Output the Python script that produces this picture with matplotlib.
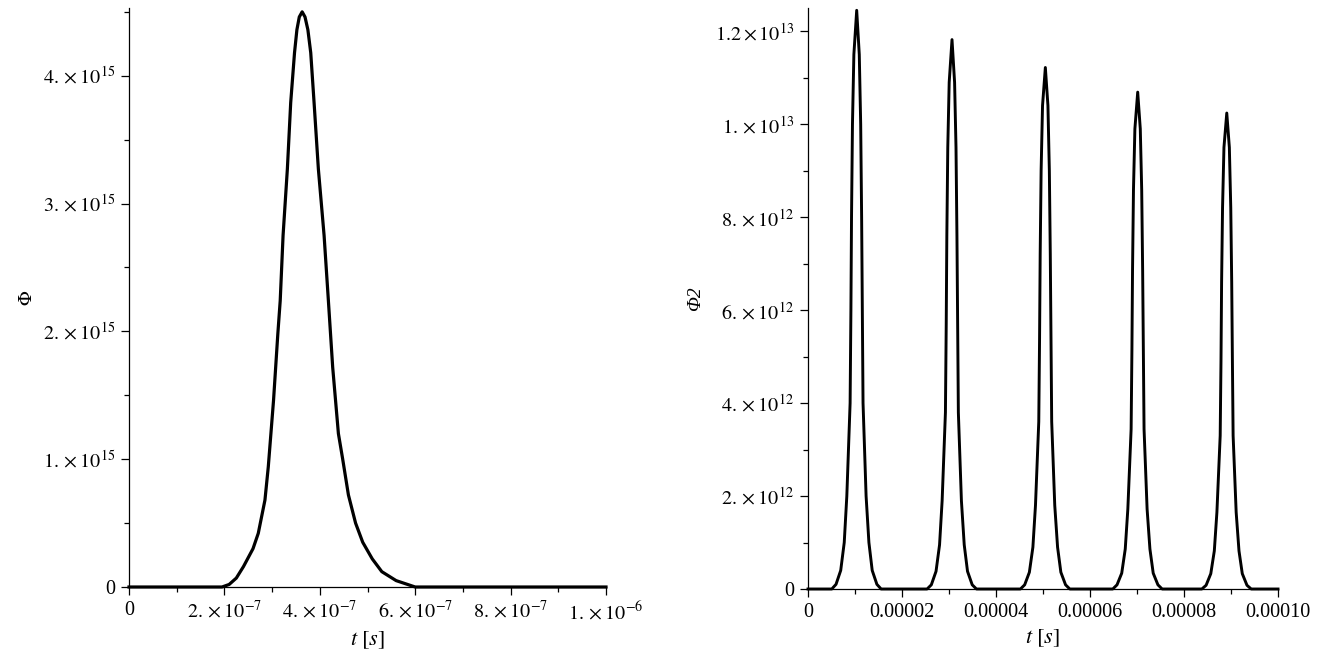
import numpy as np
import matplotlib
matplotlib.use("Agg")
from matplotlib import pyplot as plt
from matplotlib.ticker import FixedLocator, MultipleLocator

plt.rcParams['font.family'] = ['Liberation Serif', 'DejaVu Serif']
plt.rcParams['mathtext.fontset'] = 'stix'

# left panel: single pulse, t in 1e-7 s, phi in 1e15
t1 = [0.0, 1.95, 2.1, 2.25, 2.4, 2.6, 2.71, 2.85, 2.92, 3.03, 3.12, 3.17, 3.23, 3.32,
      3.39, 3.47, 3.52, 3.57, 3.63, 3.69, 3.75, 3.81, 3.88, 3.97, 4.09, 4.18, 4.27,
      4.39, 4.48, 4.60, 4.75, 4.9, 5.1, 5.3, 5.6, 6.0, 10.0]
phi1 = [0.0, 0.0, 0.02, 0.07, 0.16, 0.3, 0.42, 0.68, 0.94, 1.46, 1.98, 2.24, 2.75, 3.27,
        3.79, 4.18, 4.36, 4.46, 4.50, 4.46, 4.36, 4.18, 3.79, 3.27, 2.75, 2.24, 1.72,
        1.2, 1.0, 0.72, 0.5, 0.35, 0.22, 0.12, 0.05, 0.0, 0.0]

# right panel: pulse train, t in microseconds, phi in 1e12
p1_t = [5.06, 5.96, 6.96, 7.71, 8.26, 8.96, 9.13, 9.26, 9.46, 9.76, 10.36,
        10.91, 11.21, 11.41, 11.56, 11.71, 12.36, 12.96, 13.66, 14.66, 15.56]
p1_phi = [0, 0.1, 0.4, 1.0, 2.0, 4.0, 6.0, 8.0, 10.0, 11.5, 12.45,
          11.5, 10.0, 8.0, 6.0, 4.0, 2.0, 1.0, 0.4, 0.1, 0]
p2_t = [25.34, 26.24, 27.24, 27.99, 28.54, 29.24, 29.41, 29.54, 29.74, 30.04, 30.64,
        31.19, 31.49, 31.69, 31.84, 31.99, 32.64, 33.24, 33.94, 34.94, 35.84]
p2_phi = [0, 0.09, 0.38, 0.95, 1.9, 3.8, 5.7, 7.6, 9.5, 10.9, 11.82,
          10.9, 9.5, 7.6, 5.7, 3.8, 1.9, 0.95, 0.38, 0.09, 0]
p3_t = [45.2, 46.1, 47.1, 47.85, 48.4, 49.1, 49.27, 49.4, 49.6, 49.9, 50.5,
        51.05, 51.35, 51.55, 51.7, 51.85, 52.5, 53.1, 53.8, 54.8, 55.7]
p3_phi = [0, 0.09, 0.36, 0.9, 1.8, 3.6, 5.4, 7.2, 9.0, 10.4, 11.22,
          10.4, 9.0, 7.2, 5.4, 3.6, 1.8, 0.9, 0.36, 0.09, 0]
p4_t = [64.85, 65.75, 66.75, 67.5, 68.05, 68.75, 68.92, 69.05, 69.25, 69.55, 70.15,
        70.7, 71.0, 71.2, 71.35, 71.5, 72.15, 72.75, 73.45, 74.45, 75.35]
p4_phi = [0, 0.09, 0.34, 0.86, 1.72, 3.44, 5.15, 6.87, 8.59, 9.9, 10.69,
          9.9, 8.59, 6.87, 5.15, 3.44, 1.72, 0.86, 0.34, 0.09, 0]
p5_t = [83.8, 84.7, 85.7, 86.45, 87.0, 87.7, 87.87, 88.0, 88.2, 88.5, 89.1,
        89.65, 89.95, 90.15, 90.3, 90.45, 91.1, 91.7, 92.4, 93.4, 94.3]
p5_phi = [0, 0.08, 0.33, 0.82, 1.65, 3.3, 4.9, 6.6, 8.2, 9.5, 10.24,
          9.5, 8.2, 6.6, 4.9, 3.3, 1.65, 0.82, 0.33, 0.08, 0]

t2 = np.concatenate([[0.0], p1_t, p2_t, p3_t, p4_t, p5_t, [100.0]]) * 1e-6
phi2 = np.concatenate([[0.0], p1_phi, p2_phi, p3_phi, p4_phi, p5_phi, [0.0]]) * 1e12

left_xticks = [0, 2e-7, 4e-7, 6e-7, 8e-7, 1e-6]
left_xlabels = ['0', r'$2.\times10^{-7}$', r'$4.\times10^{-7}$', r'$6.\times10^{-7}$',
                r'$8.\times10^{-7}$', r'$1.\times10^{-6}$']
left_yticks = [0, 1e15, 2e15, 3e15, 4e15]
left_ylabels = ['0', r'$1.\times10^{15}$', r'$2.\times10^{15}$', r'$3.\times10^{15}$',
                r'$4.\times10^{15}$']
right_xticks = [0, 2e-5, 4e-5, 6e-5, 8e-5, 1e-4]
right_xlabels = ['0', '0.00002', '0.00004', '0.00006', '0.00008', '0.00010']
right_yticks = [0, 2e12, 4e12, 6e12, 8e12, 1e13, 1.2e13]
right_ylabels = ['0', r'$2.\times10^{12}$', r'$4.\times10^{12}$', r'$6.\times10^{12}$',
                 r'$8.\times10^{12}$', r'$1.\times10^{13}$', r'$1.2\times10^{13}$']

fig = plt.figure(figsize=(13.35, 6.6), dpi=100)
ax1 = fig.add_axes([129/1335, 1 - 587/660, 477/1335, 579/660])
ax2 = fig.add_axes([808/1335, 1 - 589/660, 470/1335, 581/660])


def style(ax):
    for s in ['top', 'right']:
        ax.spines[s].set_visible(False)
    for s in ['left', 'bottom']:
        ax.spines[s].set_linewidth(0.9)
    ax.tick_params(which='major', direction='out', length=6, width=0.9, labelsize=14.5, pad=4)
    ax.tick_params(which='minor', direction='out', length=3.5, width=0.9)


ax1.plot(np.array(t1) * 1e-7, np.array(phi1) * 1e15, color='black', lw=2.3,
         clip_on=False, solid_joinstyle='round')
ax1.set_xlim(0, 1e-6)
ax1.set_ylim(0, 4.53e15)
ax1.xaxis.set_major_locator(FixedLocator(left_xticks))
ax1.set_xticklabels(left_xlabels)
ax1.xaxis.set_minor_locator(MultipleLocator(1e-7))
ax1.yaxis.set_major_locator(FixedLocator(left_yticks))
ax1.set_yticklabels(left_ylabels)
ax1.yaxis.set_minor_locator(MultipleLocator(0.5e15))
style(ax1)
ax1.set_xlabel(r'$t\ [s]$', fontsize=16, labelpad=4)
ax1.set_ylabel(r'$\Phi$', fontsize=14, labelpad=5)

ax2.plot(t2, phi2, color='black', lw=2.1, clip_on=False, solid_joinstyle='round')
ax2.set_xlim(0, 1e-4)
ax2.set_ylim(0, 1.25e13)
ax2.xaxis.set_major_locator(FixedLocator(right_xticks))
ax2.set_xticklabels(right_xlabels)
ax2.xaxis.set_minor_locator(MultipleLocator(1e-5))
ax2.yaxis.set_major_locator(FixedLocator(right_yticks))
ax2.set_yticklabels(right_ylabels)
ax2.yaxis.set_minor_locator(MultipleLocator(1e12))
style(ax2)
ax2.set_xlabel(r'$t\ [s]$', fontsize=16, labelpad=4)
ax2.set_ylabel('Φ2', fontsize=14, fontstyle='italic', labelpad=8)

fig.savefig('out.png', dpi=100)
